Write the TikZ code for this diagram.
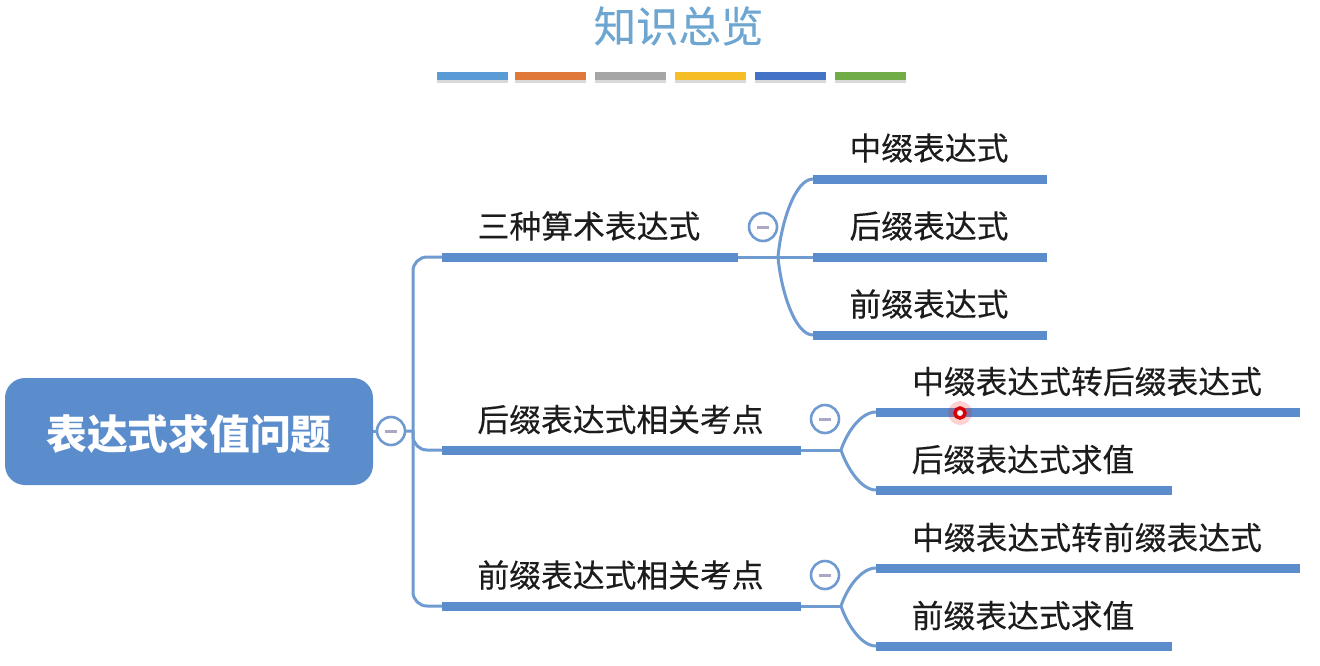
\documentclass[tikz,border=0pt]{standalone}
\usepackage{fontspec}
\setmainfont{Noto Sans CJK SC}
\newfontfamily\topicfont[FakeBold=0.3]{Noto Sans CJK SC}
\usetikzlibrary{shadows}
\definecolor{mapblue}{HTML}{5B8DCD}
\definecolor{linkblue}{HTML}{6F9BD0}
\definecolor{titleblue}{HTML}{6EA6D2}
\definecolor{minusgray}{HTML}{A9A9C6}
\definecolor{textdark}{HTML}{1C1C1C}
\definecolor{ruleblue}{HTML}{5B9BD5}
\definecolor{ruleorange}{HTML}{E0783A}
\definecolor{rulegray}{HTML}{A5A5A5}
\definecolor{ruleyellow}{HTML}{F6BE26}
\definecolor{ruledark}{HTML}{4472C4}
\definecolor{rulegreen}{HTML}{70AD47}
\tikzset{
  rootbox/.style={fill=mapblue,rounded corners=20pt,minimum width=368pt,minimum height=107pt,inner sep=0pt},
  topic/.style={text=textdark,inner sep=0pt,font=\topicfont\fontsize{31.8}{38}\selectfont},
  bar/.style={fill=mapblue,anchor=west,inner sep=0pt,minimum height=9pt},
  link/.style={draw=linkblue,line width=3pt},
  minusbtn/.style={circle,draw=linkblue,fill=white,line width=2.6pt,minimum size=28pt,inner sep=0pt,
    path picture={\draw[minusgray,line width=3pt] (path picture bounding box.center) +(-6pt,0) -- +(6pt,0);}},
  rulebar/.style={anchor=west,inner sep=0pt,minimum width=71pt,minimum height=8pt,
    drop shadow={shadow xshift=0pt,shadow yshift=-2.5pt,opacity=.3}}
}
\begin{document}
\begin{tikzpicture}[x=1pt,y=-1pt]
\useasboundingbox (0,0) rectangle (1320,665);

\node[text=titleblue,inner sep=0pt,font=\topicfont\fontsize{42.4}{48}\selectfont] (title) at (678.5,26) {知识总览};
\foreach \x/\c/\n in {437/ruleblue/a,514.5/ruleorange/b,595/rulegray/c,675/ruleyellow/d,754.5/ruledark/e,835/rulegreen/f} {
  \node[rulebar,fill=\c] (rule\n) at (\x,76) {};
}

\node[rootbox] (root) at (189,431.5) {};
\node[text=white,inner sep=0pt,font=\bfseries\fontsize{40.7}{46}\selectfont] (roottext) at (189,433.5) {表达式求值问题};

\node[bar,minimum width=296pt] (arith) at (442,257) {};
\node[bar,minimum width=359pt] (post) at (442,450) {};
\node[bar,minimum width=359pt] (pre) at (442,606) {};

\node[topic] at (589,226) (arithtext) {三种算术表达式};
\node[topic] at (620.5,419.5) (posttext) {后缀表达式相关考点};
\node[topic] at (620.5,575) (pretext) {前缀表达式相关考点};

\foreach \n/\y/\t in {ina/179/中缀表达式,posta/257/后缀表达式,prea/335/前缀表达式} {
  \node[bar,minimum width=234pt] (\n) at (813,\y) {};
  \node[topic] (\n text) at (929,\y-31) {\t};
}

\foreach \n/\y/\w/\x/\t in {inpost/412/424/1087/中缀表达式转后缀表达式,postval/490/296/1023/后缀表达式求值,inpre/568/424/1087/中缀表达式转前缀表达式,preval/646/296/1023/前缀表达式求值} {
  \node[bar,minimum width=\w pt] (\n) at (876,\y) {};
  \node[topic] (\n text) at (\x,\y-30.5) {\t};
}

\coordinate (hubroot) at (413,431);
\coordinate (hubarith) at (778,257);
\coordinate (hubpost) at (841,450);
\coordinate (hubpre) at (841,606);

\draw[link] (root.east) -- (hubroot);
\draw[link,rounded corners=14pt] (hubroot) |- (arith.west);
\draw[link,rounded corners=14pt] (hubroot) |- (post.west);
\draw[link,rounded corners=14pt] (hubroot) |- (pre.west);

\draw[link] (arith.east) -- (posta.west);
\draw[link] (hubarith) .. controls +(3,-34) and +(-18,0) .. (ina.west);
\draw[link] (hubarith) .. controls +(3,34) and +(-18,0) .. (prea.west);

\draw[link] (post.east) -- (hubpost);
\draw[link] (hubpost) .. controls +(6,-18) and +(-15,0) .. (inpost.west);
\draw[link] (hubpost) .. controls +(6,18) and +(-15,0) .. (postval.west);

\draw[link] (pre.east) -- (hubpre);
\draw[link] (hubpre) .. controls +(6,-18) and +(-15,0) .. (inpre.west);
\draw[link] (hubpre) .. controls +(6,18) and +(-15,0) .. (preval.west);

\node[minusbtn] (rootminus) at (391,431) {};
\node[minusbtn] (arithminus) at (763,227) {};
\node[minusbtn] (postminus) at (825,419) {};
\node[minusbtn] (preminus) at (825,575) {};

\fill[red,opacity=.18] (960,413) circle (12pt);
\node[circle,fill=white,draw=red!85!black,line width=3.5pt,minimum size=10pt,inner sep=0pt] (cursor) at (960,413) {};
\end{tikzpicture}
\end{document}
